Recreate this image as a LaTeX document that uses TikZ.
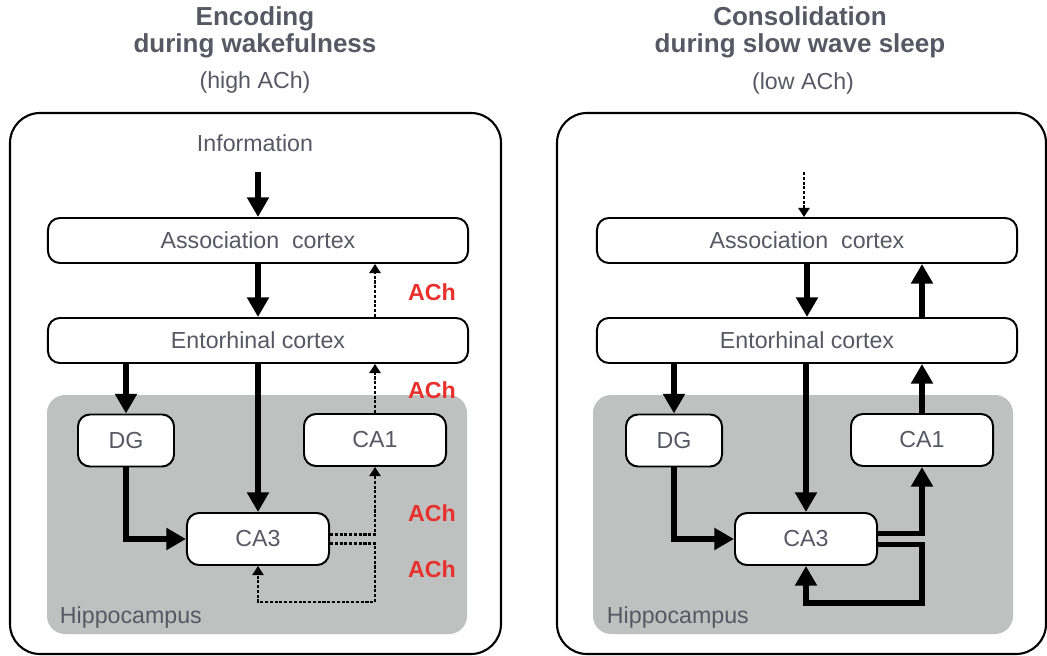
\documentclass[tikz,border=0pt]{standalone}
\usepackage{fontspec}
\setmainfont{Liberation Sans}
\usetikzlibrary{arrows.meta}
\definecolor{txt}{RGB}{88,88,100}
\definecolor{hip}{RGB}{191,193,193}
\definecolor{achred}{RGB}{232,48,44}

\begin{document}
\begin{tikzpicture}[x=0.025cm,y=-0.025cm,
    >={Triangle[length=14pt,width=15pt]},
    lbl/.style={text=txt,font=\fontsize{16.5}{19}\selectfont},
    ttl/.style={text=txt,font=\fontsize{18.5}{19}\selectfont\bfseries,align=center},
    wide/.style={lbl,draw,line width=1.4pt,rounded corners=0.3cm,fill=white,minimum width=10.5cm,minimum height=1.125cm},
    small/.style={lbl,draw,line width=1.4pt,rounded corners=0.3cm,fill=white,minimum height=1.3cm},
    big/.style={line width=3.6pt,->},
    weak/.style={line width=1.6pt,dash pattern=on 2.2pt off 1.2pt,-{Triangle[length=6.5pt,width=8pt]}},
    ach/.style={text=achred,font=\fontsize{16.5}{19}\selectfont\bfseries},
    panel/.style={line width=1.5pt,rounded corners=0.75cm}]
    \useasboundingbox (0,0) rectangle (1047,656);

    % left: wakefulness
    \draw[panel] (10,113) rectangle (501,654);
    \fill[hip,rounded corners=0.45cm] (47,395) rectangle (467,634);
    \node[ttl] (tL) at (255,32) {Encoding\\during wakefulness};
    \node[lbl] (hL) at (255,83) {(high ACh)};
    \node[lbl] (infoL) at (255,143) {Information};
    \coordinate (inL) at (258,172);
    \node[wide] (aL) at (258,240.5) {Association~ cortex};
    \node[wide] (eL) at (258,340.5) {Entorhinal cortex};
    \node[small,minimum width=2.4cm] (dgL) at (126,440.5) {DG};
    \node[small,minimum width=3.55cm] (ca1L) at (375,440) {CA1};
    \node[small,minimum width=3.55cm] (ca3L) at (258,539) {CA3};
    \node[lbl,anchor=west] (hipL) at (55,617) {Hippocampus};
    \coordinate (loopL) at (375,602);

    \draw[big] (inL) -- (aL.north);
    \draw[big] (aL.south) -- (eL.north);
    \draw[big] (dgL.north |- eL.south) -- (dgL.north);
    \draw[big] (eL.south) -- (ca3L.north);
    \draw[big] (dgL.south) |- (ca3L.west);
    \draw[weak] ([yshift=3.2pt]ca3L.east) -| (ca1L.south);
    \draw[weak] ([yshift=-3.2pt]ca3L.east) -| (loopL) -| (ca3L.south);
    \draw[weak] (ca1L.north) -- (ca1L.north |- eL.south);
    \draw[weak] (ca1L.north |- eL.north) -- (ca1L.north |- aL.south);
    \node[ach] (a1) at (432,292) {ACh};
    \node[ach] (a2) at (432,390) {ACh};
    \node[ach] (a3) at (432,513) {ACh};
    \node[ach] (a4) at (432,569) {ACh};

    % right: slow wave sleep
    \draw[panel] (557,113) rectangle (1046,654);
    \fill[hip,rounded corners=0.45cm] (593,395) rectangle (1013,634);
    \node[ttl] (tR) at (800,32) {Consolidation\\during slow wave sleep};
    \node[lbl] (hR) at (803,83) {(low ACh)};
    \coordinate (inR) at (804,172);
    \node[wide] (aR) at (807,240.5) {Association~ cortex};
    \node[wide] (eR) at (807,340.5) {Entorhinal cortex};
    \node[small,minimum width=2.4cm] (dgR) at (674,440.5) {DG};
    \node[small,minimum width=3.55cm] (ca1R) at (922,440) {CA1};
    \node[small,minimum width=3.55cm] (ca3R) at (806,539) {CA3};
    \node[lbl,anchor=west] (hipR) at (602,617) {Hippocampus};
    \coordinate (loopR) at (922,603);

    \draw[weak] (inR) -- (inR |- aR.north);
    \draw[big] (aR.south) -- (eR.north);
    \draw[big] (ca1R.north |- eR.north) -- (ca1R.north |- aR.south);
    \draw[big] (dgR.north |- eR.south) -- (dgR.north);
    \draw[big] (ca3R.north |- eR.south) -- (ca3R.north);
    \draw[big] (dgR.south) |- (ca3R.west);
    \draw[big] ([yshift=4pt]ca3R.east) -| (ca1R.south);
    \draw[big] ([yshift=-4pt]ca3R.east) -| (loopR) -| (ca3R.south);
    \draw[big] (ca1R.north) -- (ca1R.north |- eR.south);
\end{tikzpicture}
\end{document}
